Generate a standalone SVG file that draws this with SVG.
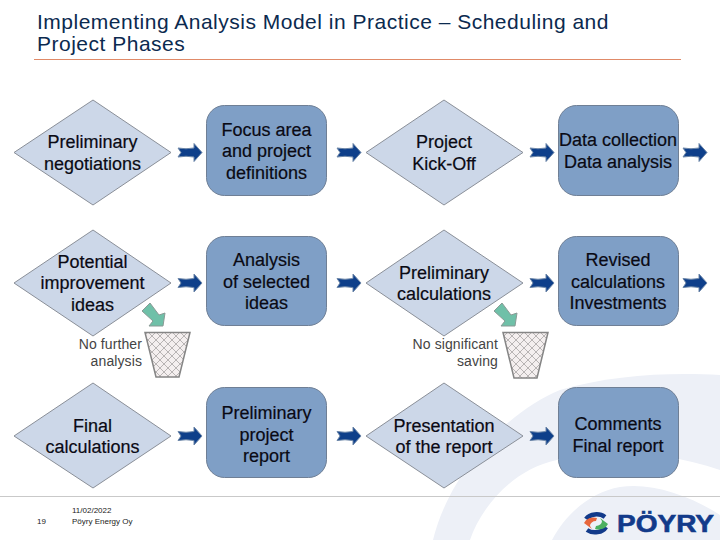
<svg xmlns="http://www.w3.org/2000/svg" width="720" height="540" viewBox="0 0 720 540">
<style>
text{font-family:"Liberation Sans",Arial,sans-serif;fill:#000}
.t{font-size:18px;text-anchor:middle;fill:#0a0a14;stroke:#0a0a14;stroke-width:.2px}
.title{font-size:21px;fill:#0b2a4f;letter-spacing:.5px}
.note{font-size:14px;text-anchor:end;fill:#444;letter-spacing:.1px}
.foot{font-size:8px;fill:#222}
.d{fill:#ccd7e8;stroke:#8a8f98;stroke-width:1}
.r{fill:#7f9fc6;stroke:#6f7f95;stroke-width:1}
.b{stroke:#858585;stroke-width:1.5}
</style>
<defs>
<path id="arr" d="M0,-4.500 Q8,-3 16,-4.500 V-9 L24,0 L16,9 V4.500 Q8,3 0,4.500 L3,0 Z" fill="#0e3f8a" stroke="#6c86a8" stroke-width="1"/>
<path id="garr" d="M150,303 L159,315 L165,313 L163,326 L149,326 L153,321 L142,311 Z" fill="#6fc0a8" stroke="#8a9a95" stroke-width="1"/>
<pattern id="hatch" width="8" height="8" patternUnits="userSpaceOnUse">
<rect width="8" height="8" fill="#f4efef"/>
<path d="M0,0 L8,8 M8,0 L0,8" stroke="#a8a4a4" stroke-width=".8"/>
</pattern>
</defs>
<rect width="720" height="540" fill="#fff"/>
<path d="M433,540 C450,470 510,410 560,390 C610,375 670,372 720,375 V540 Z" fill="#edf0f7"/>
<path d="M470,540 C480,510 510,470 557,460 C600,448 660,450 720,470 V515 C690,495 650,482 620,487 C590,492 565,515 552,540 Z" fill="#fff"/>
<g id="title">
<text class="title" x="37" y="29">Implementing Analysis Model in Practice – Scheduling and</text>
<text class="title" x="37" y="51">Project Phases</text>
<line x1="34" y1="59.500" x2="681" y2="59.500" stroke="#e08a68" stroke-width="1"/>
</g>
<g id="footer">
<line x1="0" y1="496.500" x2="720" y2="496.500" stroke="#c9c9c9" stroke-width="1"/>
<text class="foot" x="72" y="513">11/02/2022</text>
<text class="foot" x="72" y="524">Pöyry Energy Oy</text>
<text class="foot" x="37" y="524">19</text>
</g>
<g id="logo">
<path d="M586,519 A12,9 0 0 1 605,517" fill="none" stroke="#123a8a" stroke-width="4.500"/>
<path d="M606,527 A12,9 0 0 1 587,530" fill="none" stroke="#123a8a" stroke-width="4.500"/>
<path d="M584,523 A10,8 0 0 1 597,518 L596,521 A6,5 0 0 0 590,526 L592,529 Z" fill="#e8663c"/>
<path d="M608,524 A10,8 0 0 1 595,529 L596,526 A6,5 0 0 0 602,521 L600,518 Z" fill="#4bb060"/>
<text x="617" y="532" font-size="24" font-weight="bold" textLength="97" lengthAdjust="spacingAndGlyphs" style="fill:#123a8a;stroke:#123a8a;stroke-width:.6px">PÖYRY</text>
</g>
<g id="n1"><polygon class="d" points="14,152.500 93,100 171,152.500 93,205"/><text class="t" x="92.500" y="148">Preliminary</text><text class="t" x="92.500" y="170">negotiations</text></g>
<g id="n2"><rect class="r" x="206.500" y="105.500" width="120" height="90" rx="18"/><text class="t" x="266.500" y="136">Focus area</text><text class="t" x="266.500" y="157">and project</text><text class="t" x="266.500" y="179">definitions</text></g>
<g id="n3"><polygon class="d" points="366,152.500 444,100 523,152.500 444,205"/><text class="t" x="444" y="148">Project</text><text class="t" x="444" y="170">Kick-Off</text></g>
<g id="n4"><rect class="r" x="558.500" y="105.500" width="120" height="90" rx="18"/><text class="t" x="618" y="146">Data collection</text><text class="t" x="618" y="168">Data analysis</text></g>
<g id="n5"><polygon class="d" points="14,283 93,230 171,283 93,336"/><text class="t" x="92.500" y="268">Potential</text><text class="t" x="92.500" y="289">improvement</text><text class="t" x="92.500" y="311">ideas</text></g>
<g id="n6"><rect class="r" x="206.500" y="236.500" width="120" height="89" rx="18"/><text class="t" x="266.500" y="266">Analysis</text><text class="t" x="266.500" y="288">of selected</text><text class="t" x="266.500" y="309">ideas</text></g>
<g id="n7"><polygon class="d" points="366,283 444,230 523,283 444,336"/><text class="t" x="444" y="279">Preliminary</text><text class="t" x="444" y="300">calculations</text></g>
<g id="n8"><rect class="r" x="558.500" y="236.500" width="120" height="89" rx="18"/><text class="t" x="618" y="266">Revised</text><text class="t" x="618" y="288">calculations</text><text class="t" x="618" y="309">Investments</text></g>
<g id="n9"><polygon class="d" points="14,436 93,383 171,436 93,488"/><text class="t" x="92.500" y="432">Final</text><text class="t" x="92.500" y="453">calculations</text></g>
<g id="n10"><rect class="r" x="206.500" y="387.500" width="120" height="90" rx="18"/><text class="t" x="266.500" y="419">Preliminary</text><text class="t" x="266.500" y="441">project</text><text class="t" x="266.500" y="462">report</text></g>
<g id="n11"><polygon class="d" points="366,436 444,383 523,436 444,488"/><text class="t" x="444" y="432">Presentation</text><text class="t" x="444" y="453">of the report</text></g>
<g id="n12"><rect class="r" x="558.500" y="387.500" width="120" height="90" rx="18"/><text class="t" x="618" y="430">Comments</text><text class="t" x="618" y="452">Final report</text></g>
<g id="bin1"><polygon class="b" style="fill:url(#hatch)" points="145,332.500 190,332.500 179,377 156,377"/><text class="note" x="142" y="349">No further</text><text class="note" x="142" y="366">analysis</text></g>
<g id="bin2"><polygon class="b" style="fill:url(#hatch)" points="503,332.500 548,332.500 537,378 514,378"/><text class="note" x="498" y="349">No significant</text><text class="note" x="498" y="366">saving</text></g>
<g id="connectors">
<use href="#arr" x="178" y="152.500"/><use href="#arr" x="337" y="152.500"/><use href="#arr" x="530" y="152.500"/><use href="#arr" x="683" y="152.500"/>
<use href="#arr" x="178" y="283"/><use href="#arr" x="337" y="283"/><use href="#arr" x="530" y="283"/><use href="#arr" x="683" y="283"/>
<use href="#arr" x="178" y="436"/><use href="#arr" x="337" y="436"/><use href="#arr" x="530" y="436"/>
<use href="#garr"/>
<use href="#garr" x="352"/>
</g>
</svg>
